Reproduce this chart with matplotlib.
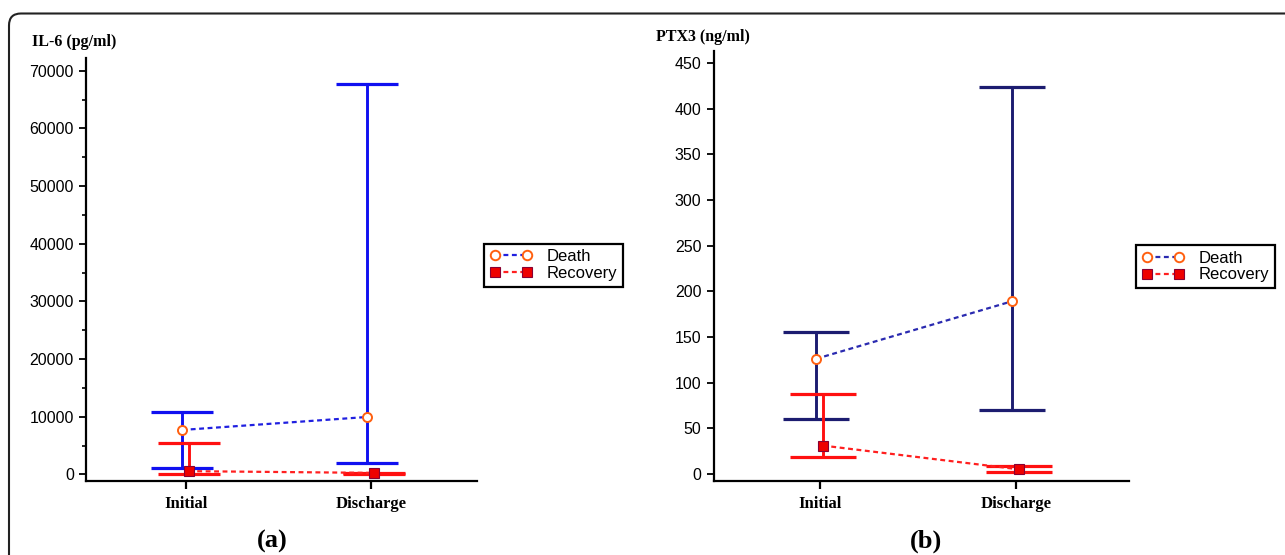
import matplotlib
matplotlib.use("Agg")
import matplotlib.pyplot as plt
from matplotlib.patches import FancyBboxPatch
from matplotlib.transforms import IdentityTransform
from matplotlib.ticker import MultipleLocator
import numpy as np

# Data (medians with ranges)
timepoints = ["Initial", "Discharge"]

il6_death = [7700, 9950]
il6_death_lo = [1050, 1900]
il6_death_hi = [10750, 67700]
il6_recovery = [550, 250]
il6_recovery_lo = [100, 100]
il6_recovery_hi = [5400, 300]

ptx3_death = [126, 189]
ptx3_death_lo = [60, 70]
ptx3_death_hi = [155, 424]
ptx3_recovery = [31, 5]
ptx3_recovery_lo = [19, 2]
ptx3_recovery_hi = [88, 9]

SANS = ["Liberation Sans", "DejaVu Sans"]
SERIF = ["Liberation Serif", "DejaVu Serif"]
plt.rcParams["font.family"] = SANS

fig = plt.figure(figsize=(12.85, 5.55), dpi=100)


def panel(ax, mid_d, lo_d, hi_d, mid_r, lo_r, hi_r, bar_col, line_col, cap):
    x = np.arange(len(timepoints))
    xd = x - 0.02
    xr = x + 0.015
    mid_d, lo_d, hi_d = map(np.array, (mid_d, lo_d, hi_d))
    mid_r, lo_r, hi_r = map(np.array, (mid_r, lo_r, hi_r))
    ax.errorbar(xd, mid_d, yerr=[mid_d - lo_d, hi_d - mid_d], fmt="none",
                ecolor=bar_col, elinewidth=2.1, capsize=cap, capthick=2.3, zorder=2)
    ax.errorbar(xr, mid_r, yerr=[mid_r - lo_r, hi_r - mid_r], fmt="none",
                ecolor="#ff1010", elinewidth=2.1, capsize=cap, capthick=2.3, zorder=2)
    ax.plot(xd, mid_d, linestyle=(0, (2.2, 1.6)), color=line_col, lw=1.6,
            marker="o", ms=6.5, mfc="white", mec="#ff6010", mew=1.4,
            label="Death", zorder=4)
    ax.plot(xr, mid_r, linestyle=(0, (2.2, 1.6)), color="#ff2020", lw=1.6,
            marker="s", ms=6.5, mfc="#ee0000", mec="#880033", mew=0.8,
            label="Recovery", zorder=4)
    for s in ["top", "right"]:
        ax.spines[s].set_visible(False)
    for s in ["left", "bottom"]:
        ax.spines[s].set_linewidth(1.6)
    ax.set_xticks(x)
    ax.set_xticklabels(timepoints, family=SERIF, fontweight="bold", fontsize=12)
    ax.tick_params(axis="x", direction="out", length=6, width=1.6, pad=5)
    ax.tick_params(axis="y", direction="out", length=5, width=1.3, pad=4,
                   labelsize=11.5)
    ax.set_facecolor("none")


def add_legend(ax, x_px, y_px):
    leg = ax.legend(loc="upper left", bbox_to_anchor=(x_px / 1285, 1 - y_px / 555),
                    bbox_transform=fig.transFigure, borderaxespad=0, numpoints=2,
                    handlelength=2.5, fontsize=12, frameon=True, fancybox=False,
                    edgecolor="black", framealpha=1, labelspacing=0.1,
                    borderpad=0.35, handletextpad=0.9, markerscale=1.05)
    leg.get_frame().set_linewidth(1.6)


# Panel (a)
ax1 = fig.add_axes([0.0673, 0.1333, 0.3039, 0.7622])
panel(ax1, il6_death, il6_death_lo, il6_death_hi,
      il6_recovery, il6_recovery_lo, il6_recovery_hi,
      "#1010f0", "#2020e0", 22)
ax1.set_xlim(-0.538, 1.573)
ax1.set_ylim(-1160, 72220)
ax1.yaxis.set_major_locator(MultipleLocator(10000))
ax1.yaxis.set_minor_locator(MultipleLocator(5000))
ax1.tick_params(axis="y", which="minor", length=3, width=1.2)
add_legend(ax1, 484, 243.5)

# Panel (b)
ax2 = fig.add_axes([0.5556, 0.1333, 0.323, 0.7748])
panel(ax2, ptx3_death, ptx3_death_lo, ptx3_death_hi,
      ptx3_recovery, ptx3_recovery_lo, ptx3_recovery_hi,
      "#1c1c70", "#2a2ab0", 24)
ax2.set_xlim(-0.541, 1.577)
ax2.set_ylim(-7.8, 463)
ax2.yaxis.set_major_locator(MultipleLocator(50))
add_legend(ax2, 1136, 245)

# Axis titles and panel letters
fig.text(32 / 1285, 1 - 42.5 / 555, "IL-6 (pg/ml)", family=SERIF,
         fontweight="bold", fontsize=11.5, va="center", ha="left")
fig.text(656 / 1285, 1 - 37 / 555, "PTX3 (ng/ml)", family=SERIF,
         fontweight="bold", fontsize=11.5, va="center", ha="left")
fig.text(272 / 1285, 1 - 541 / 555, "(a)", family=SERIF,
         fontweight="bold", fontsize=19, va="center", ha="center")
fig.text(926 / 1285, 1 - 541 / 555, "(b)", family=SERIF,
         fontweight="bold", fontsize=19, va="center", ha="center")

# Rounded frame around the figure
frame = FancyBboxPatch((9, -100), 1400, 641.5,
                       boxstyle="round,pad=0,rounding_size=12",
                       transform=IdentityTransform(), fill=False,
                       edgecolor="#222222", linewidth=1.5)
fig.patches.append(frame)

fig.savefig("out.png", dpi=100)
